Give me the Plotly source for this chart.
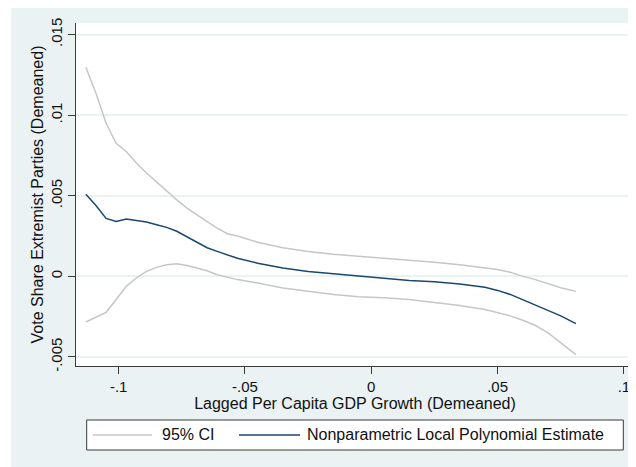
import plotly.graph_objects as go

# ---- data ----
growth = [-0.113, -0.109, -0.105, -0.101, -0.097, -0.093, -0.089, -0.085, -0.081,
          -0.077, -0.073, -0.069, -0.065, -0.061, -0.057, -0.053, -0.045, -0.035,
          -0.025, -0.015, -0.005, 0.005, 0.015, 0.025, 0.035, 0.045, 0.050, 0.055,
          0.060, 0.065, 0.070, 0.075, 0.081]

estimate = [0.0051, 0.0044, 0.0036, 0.0034, 0.00356, 0.00348, 0.00337, 0.0032, 0.00304,
            0.0028, 0.00245, 0.0021, 0.00178, 0.00155, 0.00132, 0.00112, 0.00082, 0.00052,
            0.0003, 0.00016, 0.00005, -0.00012, -0.00025, -0.00033, -0.00048, -0.00068,
            -0.00087, -0.00112, -0.00144, -0.00176, -0.0021, -0.00245, -0.00293]

ci_upper = [0.01297, 0.01136, 0.0095, 0.00826, 0.00775, 0.00703, 0.00641, 0.00584, 0.00527,
            0.00475, 0.00424, 0.0038, 0.0034, 0.003, 0.00265, 0.0025, 0.00212, 0.00178,
            0.00155, 0.00137, 0.00125, 0.0011, 0.00099, 0.00088, 0.00072, 0.00055,
            0.00042, 0.00025, 0.0, -0.0002, -0.00045, -0.0007, -0.00093]

ci_lower = [-0.00283, -0.00255, -0.00223, -0.00144, -0.00062, -0.0001, 0.00031, 0.00056, 0.00072,
            0.00079, 0.00068, 0.00052, 0.00035, 0.0001, -0.00005, -0.0002, -0.00041, -0.00072,
            -0.00092, -0.00112, -0.00126, -0.00132, -0.00144, -0.00162, -0.0018, -0.00205,
            -0.00225, -0.00245, -0.00272, -0.00305, -0.0035, -0.0041, -0.00485]

x_tickvals = [-0.1, -0.05, 0, 0.05, 0.1]
x_ticktext = ["-.1", "-.05", "0", ".05", ".1"]
y_tickvals = [-0.005, 0, 0.005, 0.01, 0.015]
y_ticktext = ["-.005", "0", ".005", ".01", ".015"]

ci_name = "95% CI"
est_name = "Nonparametric Local Polynomial Estimate"

# ---- styling ----
OFF = 8  # page body margin
W, H = 636 - OFF, 467 - OFF
L, R, T, B = 76 - OFF, 2, 23 - OFF, 101
PW, PH = W - L - R, H - T - B
BG = "#eaf2f3"
CI_COLOR = "#c6c6c6"
EST_COLOR = "#1a476f"
AXIS_COLOR = "#3a3a3a"
FONT = "Liberation Sans, Arial, sans-serif"


def px_x(p):
    return (p - OFF - L) / PW


def px_y(p):
    return (H - B - (p - OFF)) / PH


fig = go.Figure()
fig.add_trace(go.Scatter(x=growth, y=ci_upper, mode="lines", name=ci_name,
                         line=dict(color=CI_COLOR, width=1.5), showlegend=False))
fig.add_trace(go.Scatter(x=growth, y=ci_lower, mode="lines", name=ci_name,
                         line=dict(color=CI_COLOR, width=1.5), showlegend=False))
fig.add_trace(go.Scatter(x=growth, y=estimate, mode="lines", name=est_name,
                         line=dict(color=EST_COLOR, width=1.5), showlegend=False))

shapes = [
    # outer graph region
    dict(type="rect", xref="paper", yref="paper", layer="below",
         x0=px_x(11), x1=px_x(640), y0=px_y(470), y1=px_y(6),
         fillcolor=BG, line=dict(width=0)),
    # plot region
    dict(type="rect", xref="paper", yref="paper", layer="below",
         x0=0, x1=1, y0=0, y1=1, fillcolor="white", line=dict(width=0)),
    # legend box
    dict(type="rect", xref="paper", yref="paper", layer="above",
         x0=px_x(86.7), x1=px_x(623.3), y0=px_y(450), y1=px_y(420),
         fillcolor="white", line=dict(color=AXIS_COLOR, width=1)),
    dict(type="line", xref="paper", yref="paper", layer="above",
         x0=px_x(93), x1=px_x(152), y0=px_y(435), y1=px_y(435),
         line=dict(color=CI_COLOR, width=1.5)),
    dict(type="line", xref="paper", yref="paper", layer="above",
         x0=px_x(239), x1=px_x(300), y0=px_y(435), y1=px_y(435),
         line=dict(color=EST_COLOR, width=1.5)),
]

annotations = [
    dict(text=ci_name, xref="paper", yref="paper", x=px_x(161), y=px_y(435),
         xanchor="left", yanchor="middle", showarrow=False, borderpad=0,
         font=dict(size=16, color="#111", family=FONT)),
    dict(text=est_name, xref="paper", yref="paper", x=px_x(306), y=px_y(435),
         xanchor="left", yanchor="middle", showarrow=False, borderpad=0,
         font=dict(size=16, color="#111", family=FONT)),
]

fig.update_layout(
    width=W, height=H,
    margin=dict(l=L, r=R, t=T, b=B, pad=0),
    paper_bgcolor="white",
    plot_bgcolor="rgba(0,0,0,0)",
    font=dict(family=FONT, color="#111", size=15),
    shapes=shapes,
    annotations=annotations,
    showlegend=False,
)

fig.update_xaxes(
    range=[-0.1169, 0.104],
    tickvals=x_tickvals, ticktext=x_ticktext,
    showgrid=False, zeroline=False,
    showline=True, linecolor=AXIS_COLOR, linewidth=1.3,
    ticks="outside", ticklen=7, tickcolor=AXIS_COLOR, tickwidth=1.3,
    tickfont=dict(size=15),
    title=dict(text="Lagged Per Capita GDP Growth (Demeaned)", font=dict(size=16), standoff=0),
)

fig.update_yaxes(
    range=[-0.00556, 0.01572],
    tickvals=y_tickvals, ticktext=y_ticktext, tickangle=-90,
    showgrid=True, gridcolor=BG, gridwidth=1.5,
    zeroline=False,
    showline=True, linecolor=AXIS_COLOR, linewidth=1.3,
    ticks="outside", ticklen=7, tickcolor=AXIS_COLOR, tickwidth=1.3,
    tickfont=dict(size=15),
    title=dict(text="Vote Share Extremist Parties (Demeaned)", font=dict(size=16), standoff=0),
)

fig.write_html("out.html")
